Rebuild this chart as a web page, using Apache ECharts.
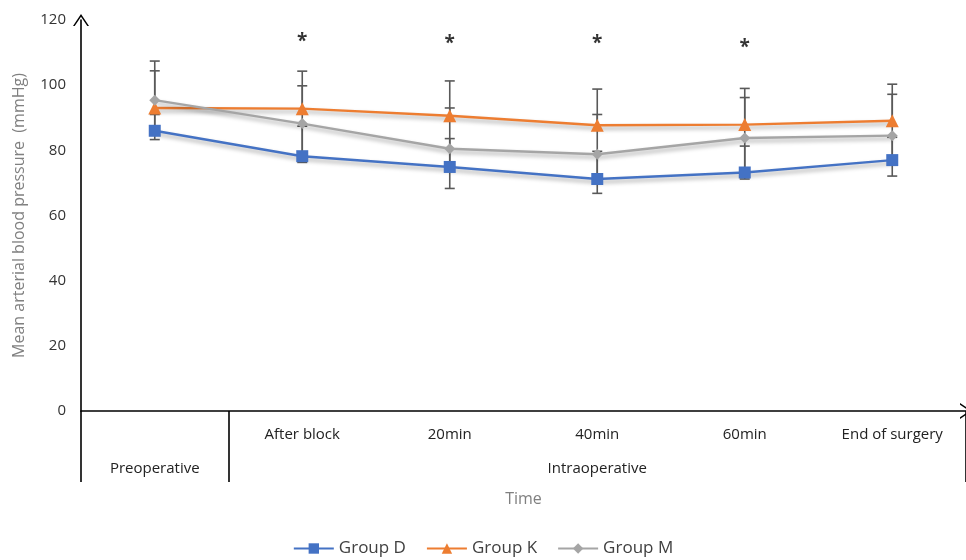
<!DOCTYPE html>
<html>
<head>
<meta charset="utf-8">
<script src="https://cdn.jsdelivr.net/npm/echarts@6/dist/echarts.min.js"></script>
<style>
html,body{margin:0;padding:0;background:#fff;}
#chart{width:966px;height:560px;}
</style>
</head>
<body>
<div id="chart"></div>
<script>
// ---- data ----
var categories = ['Preoperative', 'After block', '20min', '40min', '60min', 'End of surgery'];
var phaseLabels = ['Preoperative', '', '', 'Intraoperative', '', ''];
var yTicks = [0, 20, 40, 60, 80, 100, 120];

var groupD = [86.0, 78.2, 74.9, 71.2, 73.2, 77.0];
var groupK = [93.0, 92.8, 90.6, 87.7, 87.9, 89.1];
var groupM = [95.4, 88.2, 80.5, 78.8, 83.8, 84.5];

// error bar lengths (plus = upward, minus = downward)
var groupDPlus  = [5.0, 9.2, 8.7, 8.5, 8.1, 7.0];
var groupKPlus  = [11.4, 11.5, 10.7, 11.1, 11.1, 11.2];
var groupMPlus  = [12.0, 11.6, 12.5, 12.2, 12.4, 12.7];
var groupMMinus = [12.1, 11.9, 12.2, 12.0, 12.6, 12.4];

// significance markers
var starLevels = [null, 114.5, 113.9, 113.9, 112.9, null];

// ---- build ----
function errData(mean, plus, minus) {
  return mean.map(function (m, i) {
    var p = plus ? plus[i] : 0, n = minus ? minus[i] : 0;
    return [i, m - n, m + p, n > 0 ? 1 : 0, p > 0 ? 1 : 0];
  });
}
function errSeries(name, data) {
  return {
    type: 'custom', name: name, z: 1, silent: true,
    renderItem: function (params, api) {
      var x = api.value(0);
      var lo = api.coord([x, api.value(1)]);
      var hi = api.coord([x, api.value(2)]);
      var hw = 5;
      var style = { stroke: '#595959', lineWidth: 1.6, fill: null };
      var children = [{ type: 'line', shape: { x1: lo[0], y1: lo[1], x2: hi[0], y2: hi[1] }, style: style }];
      if (api.value(3)) children.push({ type: 'line', shape: { x1: lo[0] - hw, y1: lo[1], x2: lo[0] + hw, y2: lo[1] }, style: style });
      if (api.value(4)) children.push({ type: 'line', shape: { x1: hi[0] - hw, y1: hi[1], x2: hi[0] + hw, y2: hi[1] }, style: style });
      return { type: 'group', children: children };
    },
    encode: { x: 0, y: [1, 2] },
    data: data
  };
}
var shadow = { shadowColor: 'rgba(0,0,0,0.35)', shadowBlur: 4, shadowOffsetX: 1, shadowOffsetY: 3 };
function lineSeries(name, data, color, symbol, size) {
  return {
    type: 'line', name: name, data: data, z: 3,
    symbol: symbol, symbolSize: size,
    lineStyle: Object.assign({ color: color, width: 2.4 }, shadow),
    itemStyle: { color: color },
    emphasis: { disabled: true }
  };
}

var arrowPath = 'path://M8,0 L16,12 L14.3,12 L8,2.8 L1.7,12 L0,12 Z';
var textFont = "'Open Sans', 'DejaVu Sans', sans-serif";
var catFont = "'Open Sans', sans-serif";

var chart = echarts.init(document.getElementById('chart'), null, { renderer: 'canvas' });
chart.setOption({
  animation: false,
  backgroundColor: '#ffffff',
  grid: { left: 81, right: 0, top: 20, bottom: 149, containLabel: false, outerBoundsMode: 'none' },
  legend: {
    data: ['Group D', 'Group K', 'Group M'],
    bottom: -2, left: 'center',
    itemWidth: 40, itemHeight: 13, itemGap: 20,
    textStyle: { color: '#404040', fontSize: 17, fontFamily: textFont }
  },
  xAxis: [{
    type: 'category', data: categories, boundaryGap: true,
    name: 'Time', nameLocation: 'middle', nameGap: 80,
    nameTextStyle: { color: '#808080', fontSize: 16, fontFamily: textFont },
    axisLine: { show: true, lineStyle: { color: '#000', width: 1.6 }, symbol: ['none', arrowPath], symbolSize: [16, 12] },
    axisTick: { show: false },
    axisLabel: {
      margin: 16, color: '#222', fontSize: 15, fontFamily: catFont,
      formatter: function (v, i) { return i === 0 ? '' : v; }
    },
    splitLine: { show: false }
  }, {
    type: 'category', data: phaseLabels, boundaryGap: true, position: 'bottom',
    axisLine: { show: false },
    axisTick: {
      show: true, length: 71, lineStyle: { color: '#000', width: 1.6 },
      interval: function (index) { return index === 0 || index === 1; }
    },
    axisLabel: { margin: 50, color: '#222', fontSize: 15, fontFamily: catFont, interval: 0 },
    splitLine: { show: false }
  }],
  yAxis: {
    type: 'value', min: yTicks[0], max: yTicks[yTicks.length - 1], interval: 20,
    name: 'Mean arterial blood pressure  (mmHg)', nameLocation: 'middle', nameGap: 54,
    nameTextStyle: { color: '#808080', fontSize: 16, fontFamily: textFont },
    axisLine: { show: true, lineStyle: { color: '#000', width: 1.6 }, symbol: ['none', arrowPath], symbolSize: [16, 12] },
    axisTick: { show: false },
    axisLabel: { margin: 15, color: '#333', fontSize: 15, fontFamily: textFont },
    splitLine: { show: false }
  },
  series: [
    errSeries('errD', errData(groupD, groupDPlus, null)),
    errSeries('errK', errData(groupK, groupKPlus, null)),
    errSeries('errM', errData(groupM, groupMPlus, groupMMinus)),
    lineSeries('Group D', groupD, '#4472C4', 'rect', 12),
    lineSeries('Group K', groupK, '#ED7D31', 'triangle', 13),
    lineSeries('Group M', groupM, '#A5A5A5', 'diamond', 11),
    {
      type: 'scatter', name: 'stars', data: starLevels, symbolSize: 1, z: 4, silent: true,
      itemStyle: { color: 'rgba(0,0,0,0)' },
      label: { show: true, position: 'inside', formatter: '*', color: '#000', fontSize: 19, fontWeight: 'bold', fontFamily: textFont, offset: [0, 4] }
    }
  ]
});
</script>
</body>
</html>
